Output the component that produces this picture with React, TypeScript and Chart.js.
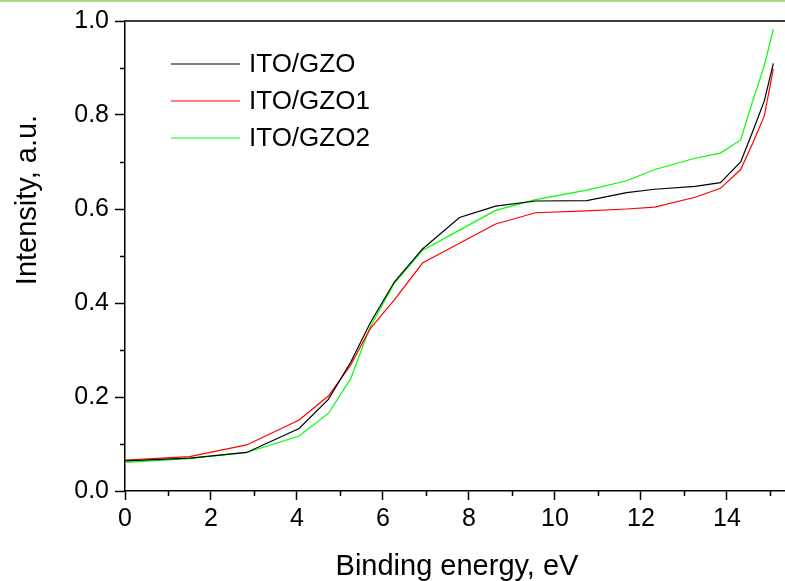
import React, { useEffect, useRef } from "react";
import { Chart, registerables } from "chart.js";

Chart.register(...registerables);

const FONT = "'Liberation Sans', Arial, sans-serif";

const ENERGY = [0, 1.5, 2.83, 4.05, 4.73, 5.25, 5.7, 6.26, 6.92, 7.78, 8.62, 9.55, 10.74, 11.67, 12.32, 13.26, 13.85, 14.32, 14.6, 14.87, 15.08];
const ITO_GZO = [0.064, 0.07, 0.082, 0.133, 0.195, 0.274, 0.357, 0.444, 0.515, 0.582, 0.606, 0.617, 0.618, 0.635, 0.642, 0.648, 0.656, 0.7, 0.765, 0.83, 0.91];
const ITO_GZO1 = [0.066, 0.073, 0.098, 0.151, 0.202, 0.268, 0.345, 0.406, 0.485, 0.527, 0.568, 0.592, 0.596, 0.6, 0.604, 0.625, 0.644, 0.684, 0.74, 0.798, 0.898];
const ITO_GZO2 = [0.061, 0.069, 0.082, 0.117, 0.165, 0.239, 0.349, 0.441, 0.512, 0.555, 0.597, 0.62, 0.64, 0.66, 0.684, 0.708, 0.719, 0.747, 0.83, 0.905, 0.983];

const SERIES_LABELS = ["ITO/GZO", "ITO/GZO1", "ITO/GZO2"];
const SERIES_COLORS = ["#000000", "#ff0000", "#00ff00"];

const X_TICKS = [0, 2, 4, 6, 8, 10, 12, 14];
const X_MINOR = [1, 3, 5, 7, 9, 11, 13, 15];
const Y_TICKS = [0, 0.2, 0.4, 0.6, 0.8, 1.0];
const Y_MINOR = [0.1, 0.3, 0.5, 0.7, 0.9];

const X_TITLE = "Binding energy, eV";
const Y_TITLE = "Intensity, a.u.";

const decor = {
  id: "decor",
  afterDraw(chart: any) {
    const { ctx, chartArea } = chart;
    const x = chart.scales.x;
    const y = chart.scales.y;
    ctx.save();
    // thin green strip at the very top
    ctx.fillStyle = "#a9d98c";
    ctx.fillRect(0, 0, chart.width, 2);
    // top frame line
    ctx.strokeStyle = "#000";
    ctx.lineWidth = 1.5;
    ctx.beginPath();
    ctx.moveTo(chartArea.left, chartArea.top);
    ctx.lineTo(chartArea.right, chartArea.top);
    ctx.stroke();
    // minor ticks
    ctx.lineWidth = 1.5;
    ctx.beginPath();
    X_MINOR.forEach((v) => {
      const px = Math.round(x.getPixelForValue(v)) + 0.5;
      ctx.moveTo(px, chartArea.bottom);
      ctx.lineTo(px, chartArea.bottom + 5);
    });
    Y_MINOR.forEach((v) => {
      const py = Math.round(y.getPixelForValue(v)) + 0.5;
      ctx.moveTo(chartArea.left, py);
      ctx.lineTo(chartArea.left - 5, py);
    });
    ctx.stroke();
    // legend
    ctx.font = `26px ${FONT}`;
    ctx.textBaseline = "middle";
    ctx.textAlign = "left";
    chart.data.datasets.forEach((ds: any, i: number) => {
      const ly = 64 + i * 37;
      ctx.strokeStyle = ds.borderColor;
      ctx.lineWidth = 1.2;
      ctx.beginPath();
      ctx.moveTo(171, ly);
      ctx.lineTo(240, ly);
      ctx.stroke();
      ctx.fillStyle = "#000";
      ctx.fillText(ds.label, 249, ly + 1);
    });
    // axis titles
    ctx.fillStyle = "#000";
    ctx.font = `29px ${FONT}`;
    ctx.textAlign = "center";
    ctx.textBaseline = "alphabetic";
    ctx.fillText(X_TITLE, 457, 575);
    ctx.translate(36, 200);
    ctx.rotate(-Math.PI / 2);
    ctx.fillText(Y_TITLE, 0, 0);
    ctx.restore();
  },
};

export default function App() {
  const ref = useRef<HTMLCanvasElement | null>(null);
  useEffect(() => {
    if (!ref.current) return;
    const mk = (data: number[]) => ENERGY.map((e, i) => ({ x: e, y: data[i] }));
    const all = [ITO_GZO, ITO_GZO1, ITO_GZO2];
    const chart = new Chart(ref.current, {
      type: "line",
      data: {
        datasets: all.map((d, i) => ({
          label: SERIES_LABELS[i],
          data: mk(d),
          borderColor: SERIES_COLORS[i],
          backgroundColor: SERIES_COLORS[i],
          borderWidth: 1.2,
          pointRadius: 0,
          tension: 0,
          fill: false,
        })),
      },
      options: {
        responsive: false,
        animation: false,
        layout: { padding: { top: 20, left: 0, right: 0, bottom: 0 } },
        plugins: { legend: { display: false }, tooltip: { enabled: false } },
        scales: {
          x: {
            type: "linear",
            min: 0,
            max: 15.7,
            afterBuildTicks: (s: any) => {
              s.ticks = X_TICKS.map((v) => ({ value: v }));
            },
            afterFit: (s: any) => {
              s.height = 90;
            },
            grid: { display: true, drawOnChartArea: false, drawTicks: true, tickLength: 9, tickWidth: 1.5, color: "#000" },
            border: { display: true, color: "#000", width: 1.5 },
            ticks: {
              font: { family: FONT, size: 25 },
              color: "#000",
              padding: 4,
              maxRotation: 0,
              autoSkip: false,
              callback: (v: any) => String(v),
            },
          },
          y: {
            type: "linear",
            min: 0,
            max: 1,
            afterBuildTicks: (s: any) => {
              s.ticks = Y_TICKS.map((v) => ({ value: v }));
            },
            afterFit: (s: any) => {
              s.width = 125;
            },
            grid: { display: true, drawOnChartArea: false, drawTicks: true, tickLength: 10, tickWidth: 1.5, color: "#000" },
            border: { display: true, color: "#000", width: 1.5 },
            ticks: {
              font: { family: FONT, size: 25 },
              color: "#000",
              padding: 6,
              autoSkip: false,
              callback: (v: any) => Number(v).toFixed(1),
            },
          },
        },
      },
      plugins: [decor],
    });
    return () => chart.destroy();
  }, []);
  return (
    <div style={{ position: "fixed", left: 0, top: 0, width: 785, height: 581, overflow: "hidden", background: "#fff" }}>
      <canvas ref={ref} width={800} height={581} style={{ width: 800, height: 581, display: "block" }} />
    </div>
  );
}
